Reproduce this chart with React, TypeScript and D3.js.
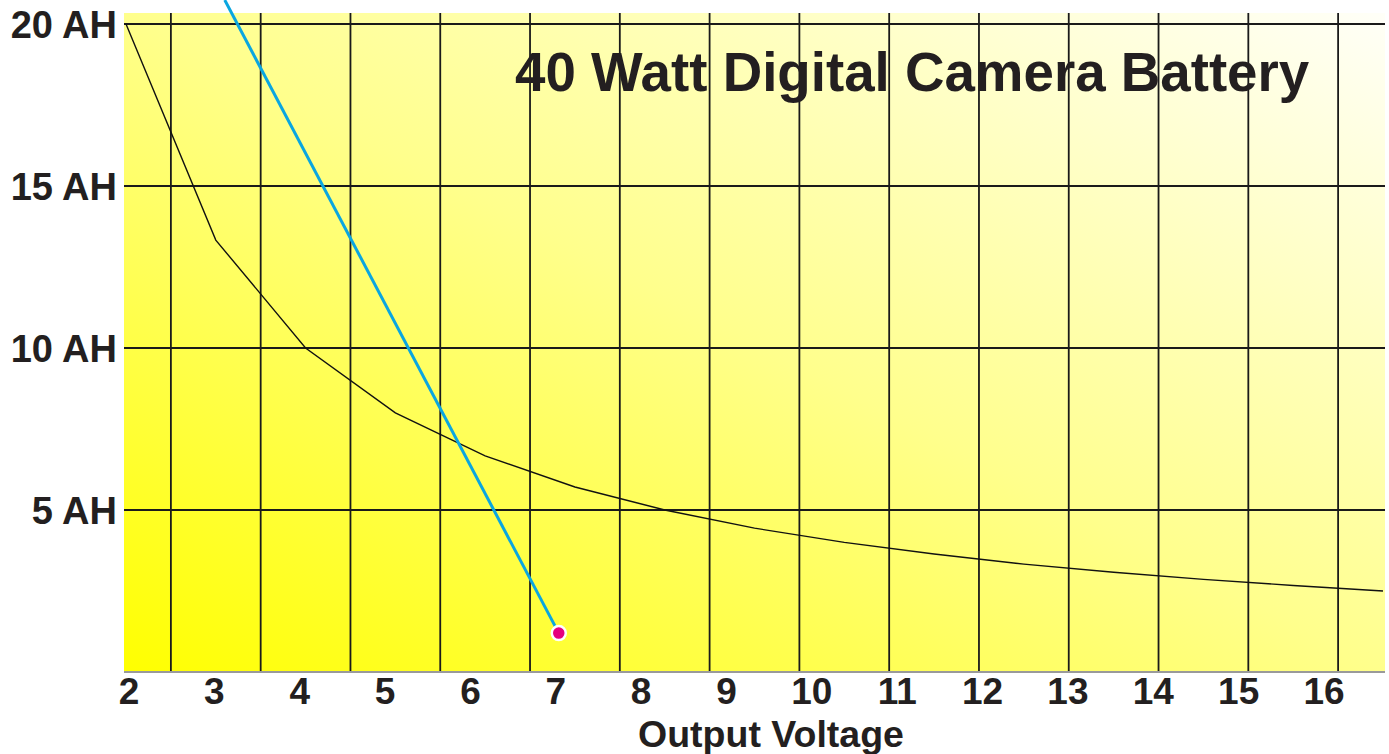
import React from "react";
import * as d3 from "d3";

const curveVolts = [2, 3, 4, 5, 6, 7, 8, 9, 10, 11, 12, 13, 14, 15, 16];
const curveAmpHours = [20, 13.33, 10, 8, 6.67, 5.71, 5, 4.44, 4, 3.64, 3.33, 3.08, 2.86, 2.67, 2.5];
const gridVolts = [2.5, 3.5, 4.5, 5.5, 6.5, 7.5, 8.5, 9.5, 10.5, 11.5, 12.5, 13.5, 14.5, 15.5];
const gridAmpHours = [5, 10, 15, 20];
const yTickLabels = ["5 AH", "10 AH", "15 AH", "20 AH"];
const xTickLabels = ["2", "3", "4", "5", "6", "7", "8", "9", "10", "11", "12", "13", "14", "15", "16"];
const blueLineVolts = [3.1, 6.82];
const blueLineAmpHours = [20.74, 1.2];
const markerVolt = 6.82;
const markerAmpHour = 1.2;
const title = "40 Watt Digital Camera Battery";
const xTitle = "Output Voltage";

const W = 1389;
const H = 754;
const plotLeft = 124;
const plotRight = 1385;
const plotTop = 13;
const plotBottom = 672;

export default function App() {
  const x = d3.scaleLinear().domain([2, 16]).range([126, 1383]);
  const y = d3.scaleLinear().domain([0, 20]).range([plotBottom, 24]);
  const xLabel = d3.scalePoint<string>().domain(xTickLabels).range([129, 1324]);

  const curve = curveVolts.map((v, i) => [v, curveAmpHours[i]] as [number, number]);
  const blue = blueLineVolts.map((v, i) => [v, blueLineAmpHours[i]] as [number, number]);
  const line = d3
    .line<[number, number]>()
    .x((d) => x(d[0]))
    .y((d) => y(d[1]));

  const textColor = "#231f20";
  const font = "'Liberation Sans', Arial, Helvetica, sans-serif";

  return (
    <svg
      width={W}
      height={H}
      style={{ position: "absolute", left: 0, top: 0, display: "block", background: "#fff" }}
    >
      <defs>
        <linearGradient id="bg" x1="0" y1="1" x2="1" y2="0">
          <stop offset="0" stopColor="#ffff00" />
          <stop offset="0.5" stopColor="#ffff8c" />
          <stop offset="1" stopColor="#fffff8" />
        </linearGradient>
      </defs>
      <rect x={plotLeft} y={plotTop} width={plotRight - plotLeft} height={plotBottom - plotTop} fill="url(#bg)" />
      {gridVolts.map((v) => (
        <line key={"gv" + v} x1={x(v)} x2={x(v)} y1={plotTop} y2={plotBottom} stroke="#1a1a1a" strokeWidth={1.8} />
      ))}
      {gridAmpHours.map((a) => (
        <line key={"ga" + a} x1={plotLeft} x2={plotRight} y1={y(a)} y2={y(a)} stroke="#1a1a1a" strokeWidth={1.8} />
      ))}
      <line x1={plotLeft} x2={plotRight} y1={plotBottom} y2={plotBottom} stroke="#9a9a9a" strokeWidth={2} />
      <path d={line(curve) || ""} fill="none" stroke="#111" strokeWidth={1.4} />
      <path d={line(blue) || ""} fill="none" stroke="#0aa6e0" strokeWidth={3} />
      <circle cx={x(markerVolt)} cy={y(markerAmpHour)} r={7} fill="#e5007d" stroke="#fff" strokeWidth={2.5} />
      {gridAmpHours.map((a, i) => (
        <text
          key={"yl" + a}
          x={117}
          y={y(a)}
          dy="0.36em"
          textAnchor="end"
          fontFamily={font}
          fontWeight="bold"
          fontSize={38}
          fill={textColor}
        >
          {yTickLabels[i]}
        </text>
      ))}
      {xTickLabels.map((t) => (
        <text
          key={"xl" + t}
          x={xLabel(t)}
          y={704}
          textAnchor="middle"
          fontFamily={font}
          fontWeight="bold"
          fontSize={37}
          fill={textColor}
        >
          {t}
        </text>
      ))}
      <text x={771} y={747} textAnchor="middle" fontFamily={font} fontWeight="bold" fontSize={37.5} fill={textColor}>
        {xTitle}
      </text>
      <text x={515} y={91} textAnchor="start" fontFamily={font} fontWeight="bold" fontSize={54.7} fill={textColor}>
        {title}
      </text>
    </svg>
  );
}
